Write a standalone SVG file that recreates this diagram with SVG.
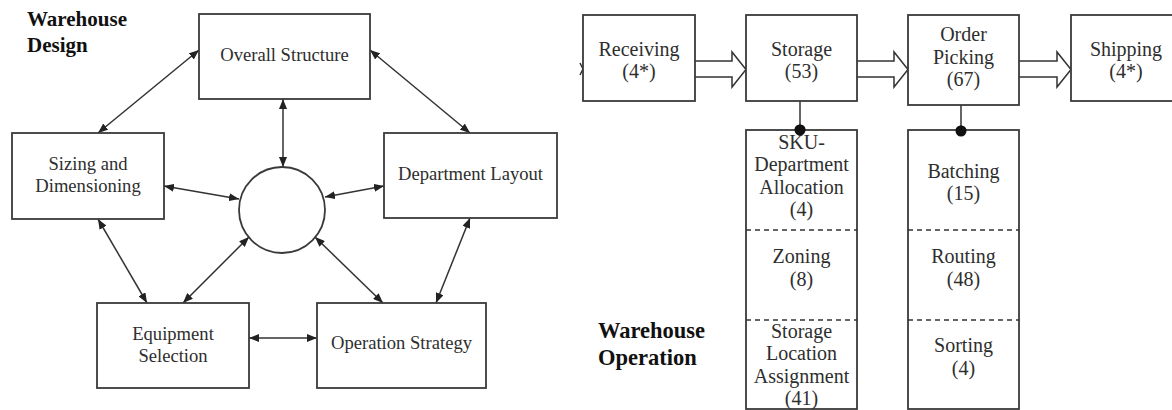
<svg xmlns="http://www.w3.org/2000/svg" width="1172" height="410" viewBox="0 0 1172 410">
<style>
.box{fill:#fff;stroke:#3a3a3a;stroke-width:1.8}
.t{font-family:"Liberation Serif","Times New Roman",serif;font-size:18.6px;fill:#2e2e2e;text-anchor:middle}
.tr{font-family:"Liberation Serif","Times New Roman",serif;font-size:20px;fill:#2e2e2e;text-anchor:middle}
.h{font-family:"Liberation Serif","Times New Roman",serif;font-weight:bold;fill:#111}
.ln{stroke:#333;stroke-width:1.5;fill:none;marker-start:url(#ah);marker-end:url(#ah)}
.blk{fill:#fff;stroke:#333;stroke-width:1.5;stroke-linejoin:miter}
.dash{stroke:#333;stroke-width:1.5;stroke-dasharray:5,4}
.stem{stroke:#333;stroke-width:1.5}
.dot{fill:#111}
</style>
<defs>
<marker id="ah" viewBox="0 0 10 8" refX="10" refY="4" markerWidth="10" markerHeight="8" markerUnits="userSpaceOnUse" orient="auto-start-reverse">
<path d="M0,0 L10,4 L0,8 Z" fill="#222"/>
</marker>
</defs>
<rect width="1172" height="410" fill="#fff"/>

<text class="h" font-size="21" x="27" y="26">Warehouse</text>
<text class="h" font-size="21" x="27" y="52">Design</text>

<g id="connectors">
<line class="ln" x1="199" y1="50" x2="98" y2="133"/>
<line class="ln" x1="370" y1="50" x2="470" y2="133"/>
<line class="ln" x1="283" y1="99" x2="283" y2="167"/>
<line class="ln" x1="164" y1="186" x2="239" y2="199"/>
<line class="ln" x1="325" y1="197" x2="384" y2="186"/>
<line class="ln" x1="98" y1="219" x2="147" y2="303"/>
<line class="ln" x1="249" y1="237" x2="183" y2="303"/>
<line class="ln" x1="315" y1="237" x2="383" y2="303"/>
<line class="ln" x1="470" y1="218" x2="436" y2="303"/>
<line class="ln" x1="249" y1="338" x2="317" y2="338"/>
<path class="blk" d="M694,61 H732 V52 L746,69.5 L732,87 V77 H694 Z"/>
<path class="blk" d="M856,61 H894 V52 L908,69.5 L894,87 V77 H856 Z"/>
<path class="blk" d="M1018,61 H1057 V52 L1071,69.5 L1057,87 V77 H1018 Z"/>
<path d="M580,63 L583,69 L580,75" fill="none" stroke="#333" stroke-width="1.5"/>
<line class="stem" x1="800" y1="101" x2="800" y2="130"/>
<line class="stem" x1="961" y1="105" x2="961" y2="131"/>
<circle class="dot" cx="800" cy="130" r="5.5"/>
<circle class="dot" cx="961" cy="131" r="5.5"/>
</g>

<g id="overall-structure">
<rect class="box" x="199" y="14" width="171" height="85"/>
<text class="t" x="284.5" y="61">Overall Structure</text>
</g>
<g id="center-circle">
<circle cx="282" cy="210" r="43" fill="#fff" stroke="#3a3a3a" stroke-width="1.8"/>
</g>
<g id="sizing">
<rect class="box" x="12" y="133" width="152" height="86"/>
<text class="t" x="88" y="170">Sizing and</text>
<text class="t" x="88" y="192">Dimensioning</text>
</g>
<g id="department-layout">
<rect class="box" x="384" y="133" width="173" height="85"/>
<text class="t" x="470.5" y="180">Department Layout</text>
</g>
<g id="equipment-selection">
<rect class="box" x="97" y="303" width="152" height="85"/>
<text class="t" x="173" y="340">Equipment</text>
<text class="t" x="173" y="362">Selection</text>
</g>
<g id="operation-strategy">
<rect class="box" x="317" y="303" width="169" height="85"/>
<text class="t" x="401.5" y="349">Operation Strategy</text>
</g>

<g id="receiving">
<rect class="box" x="583" y="15" width="112" height="86"/>
<text class="tr" x="639" y="56">Receiving</text>
<text class="tr" x="639" y="78">(4*)</text>
</g>
<g id="storage">
<rect class="box" x="746" y="15" width="111" height="86"/>
<text class="tr" x="801.5" y="56">Storage</text>
<text class="tr" x="801.5" y="78">(53)</text>
</g>
<g id="order-picking">
<rect class="box" x="908" y="15" width="111" height="90"/>
<text class="tr" x="963.5" y="41">Order</text>
<text class="tr" x="963.5" y="63.5">Picking</text>
<text class="tr" x="963.5" y="86">(67)</text>
</g>
<g id="shipping">
<rect class="box" x="1071" y="15" width="115" height="86"/>
<text class="tr" x="1126" y="56">Shipping</text>
<text class="tr" x="1126" y="78">(4*)</text>
</g>

<g id="storage-subtasks">
<rect class="box" x="746" y="130" width="111" height="279"/>
<line class="dash" x1="746" y1="230" x2="857" y2="230"/>
<line class="dash" x1="746" y1="320" x2="857" y2="320"/>
<text class="tr" x="801.5" y="149">SKU-</text>
<text class="tr" x="801.5" y="171">Department</text>
<text class="tr" x="801.5" y="194">Allocation</text>
<text class="tr" x="801.5" y="216">(4)</text>
<text class="tr" x="801.5" y="263">Zoning</text>
<text class="tr" x="801.5" y="286">(8)</text>
<text class="tr" x="801.5" y="338">Storage</text>
<text class="tr" x="801.5" y="360">Location</text>
<text class="tr" x="801.5" y="383">Assignment</text>
<text class="tr" x="801.5" y="405">(41)</text>
</g>
<g id="picking-subtasks">
<rect class="box" x="908" y="130" width="111" height="279"/>
<line class="dash" x1="908" y1="230" x2="1019" y2="230"/>
<line class="dash" x1="908" y1="320" x2="1019" y2="320"/>
<text class="tr" x="963.5" y="178">Batching</text>
<text class="tr" x="963.5" y="200">(15)</text>
<text class="tr" x="963.5" y="263">Routing</text>
<text class="tr" x="963.5" y="286">(48)</text>
<text class="tr" x="963.5" y="352">Sorting</text>
<text class="tr" x="963.5" y="375">(4)</text>
</g>
<circle class="dot" cx="800" cy="130" r="5.5"/>
<circle class="dot" cx="961" cy="131" r="5.5"/>

<text class="h" font-size="22.5" x="598" y="338">Warehouse</text>
<text class="h" font-size="22.5" x="598" y="365">Operation</text>
</svg>
